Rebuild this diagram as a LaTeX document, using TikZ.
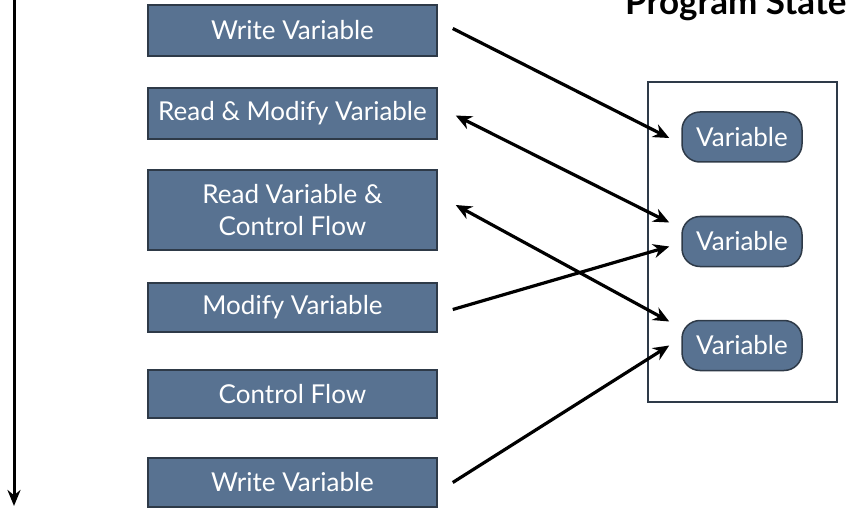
\documentclass[tikz,border=0pt]{standalone}
\usepackage{fontspec}
\setmainfont{Lato}
\usetikzlibrary{arrows.meta}
\definecolor{stepfill}{HTML}{587291}
\definecolor{stepline}{HTML}{2E3A48}
\tikzset{
  stepbox/.style={draw=stepline, line width=1.5pt, fill=stepfill, text=white,
    minimum width=289pt, inner sep=0pt, align=center, font=\fontsize{26}{32}\selectfont},
  varbox/.style={draw=stepline, line width=1.5pt, fill=stepfill, text=white,
    rounded corners=18pt, minimum width=120pt, minimum height=50pt, inner sep=0pt,
    font=\fontsize{26}{32}\selectfont},
  link/.style={line width=3.2pt, -{Stealth[length=16pt,width=14pt]}},
  dlink/.style={line width=3.2pt, {Stealth[length=16pt,width=14pt]}-{Stealth[length=16pt,width=14pt]}}
}
\begin{document}
\begin{tikzpicture}[x=1pt,y=-1pt]
      \useasboundingbox (0,0) rectangle (852,508);
      \draw
        (292.5,30.5) node[stepbox, minimum height=51pt] (b1){Write Variable}
        (292.5,113.5) node[stepbox, minimum height=51pt] (b2){Read \& Modify Variable}
        (292.5,210) node[stepbox, minimum height=80pt] (b3){Read Variable \&\\Control Flow}
        (292.5,307.5) node[stepbox, minimum height=49pt] (b4){Modify Variable}
        (292.5,394) node[stepbox, minimum height=48pt] (b5){Control Flow}
        (292.5,482.5) node[stepbox, minimum height=49pt] (b6){Write Variable};
      \draw[line width=1.5pt, draw=stepline] (648,82) rectangle (837,402);
      \draw
        (742,137) node[varbox] (v1){Variable}
        (742,241.5) node[varbox] (v2){Variable}
        (742,345.5) node[varbox] (v3){Variable};
      \node[anchor=base east, font=\fontsize{35}{42}\bfseries\selectfont] (title) at (850,15) {Program State};
      \coordinate (top) at (14,0);
      \coordinate (bottom) at (14,506);
      \draw[line width=3pt, -{Stealth[length=16pt,width=13pt]}] (top) -- (bottom);
      \begin{scope}
        \draw[link] ([shift={(15,-2)}]b1.east) to ([shift={(-12,1)}]v1.west);
        \draw[dlink] ([shift={(18,2)}]b2.east) to ([shift={(-12,-19)}]v2.west);
        \draw[dlink] ([shift={(18,-5)}]b3.east) to ([shift={(-12,-24)}]v3.west);
        \draw[link] ([shift={(15,2)}]b4.east) to ([shift={(-12,5)}]v2.west);
        \draw[link] ([shift={(15,0)}]b6.east) to ([shift={(-12,0)}]v3.west);
      \end{scope}
    \end{tikzpicture}
\end{document}
